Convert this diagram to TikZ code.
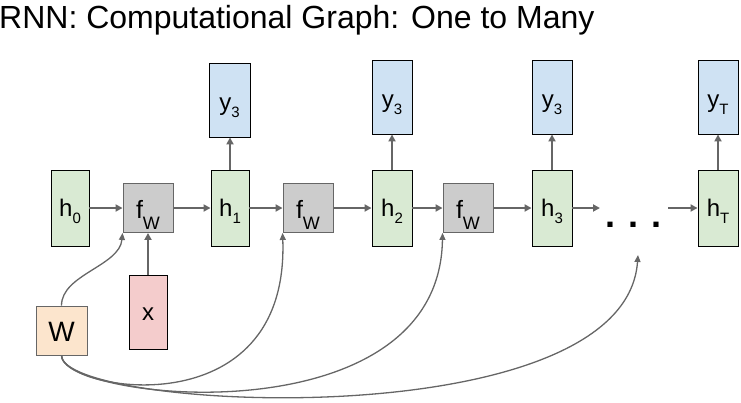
\documentclass[tikz,border=0pt]{standalone}
\usepackage{fontspec}
\setmainfont{Liberation Sans}
\usetikzlibrary{arrows.meta}
\definecolor{hgreen}{HTML}{D9EAD3}
\definecolor{fgray}{HTML}{CCCCCC}
\definecolor{yblue}{HTML}{CFE2F3}
\definecolor{xpink}{HTML}{F4CCCC}
\definecolor{worange}{HTML}{FCE5CD}
\definecolor{edgegray}{HTML}{666666}
\newcommand{\hlab}[2]{{\fontsize{24}{24}\selectfont #1\raisebox{-7pt}{\fontsize{15}{15}\selectfont #2}}}
\newcommand{\flab}{{\fontsize{25}{25}\selectfont f\raisebox{-11pt}{\fontsize{18}{18}\selectfont W}}}
\begin{document}
\begin{tikzpicture}[x=1pt,y=-1pt,
  box/.style={draw=black, line width=0.9pt, inner sep=0pt, minimum width=38pt, minimum height=76pt},
  hbox/.style={box, fill=hgreen, text height=17pt, text depth=0pt},
  ybox/.style={box, fill=yblue, minimum width=40pt, minimum height=74pt, text height=20pt, text depth=0pt},
  fbox/.style={draw=edgegray, line width=0.9pt, fill=fgray, inner sep=0pt, minimum width=50pt, minimum height=49pt, text height=21pt, text depth=0pt},
  xbox/.style={box, fill=xpink, minimum height=74pt, text height=16pt, text depth=0pt, font=\fontsize{24}{24}\selectfont},
  wbox/.style={draw=edgegray, line width=0.9pt, fill=worange, inner sep=0pt, minimum width=51pt, minimum height=49pt, text height=22pt, text depth=0pt, font=\fontsize{28}{28}\selectfont},
  arr/.style={draw=edgegray, line width=2pt, -{Triangle[length=7pt,width=7pt]}},
  carr/.style={draw=edgegray, line width=1.3pt, -{Triangle[length=7pt,width=6pt]}}
]
\useasboundingbox (0,0) rectangle (741,402);
\node[anchor=base west, inner sep=0pt, font=\fontsize{32}{32}\selectfont] (title) at (-1,28) {RNN: Computational Graph: One to Many};

\node[hbox] (h0) at (70,208) {\hlab{h}{0}};
\node[fbox] (f1) at (148,208) {\flab};
\node[hbox] (h1) at (230,208) {\hlab{h}{1}};
\node[fbox] (f2) at (308,208) {\flab};
\node[hbox, minimum width=40pt] (h2) at (392,208) {\hlab{h}{2}};
\node[fbox] (f3) at (468,208) {\flab};
\node[hbox, minimum width=40pt] (h3) at (552,208) {\hlab{h}{3}};
\node[hbox, minimum width=40pt] (hT) at (718,208) {\hlab{h}{T}};

\node[ybox, minimum width=41pt] (ya) at (229.5,100) {\hlab{y}{3}};
\node[ybox] (yb) at (392,97) {\hlab{y}{3}};
\node[ybox] (yc) at (552,97) {\hlab{y}{3}};
\node[ybox] (yd) at (718,97) {\hlab{y}{T}};

\node[xbox] (x) at (148,312) {x};
\node[wbox] (W) at (61.5,330.5) {W};

\node[anchor=base, inner sep=0pt, font=\bfseries\fontsize{36}{36}\selectfont] (dots) at (633.5,227.5) {. . .};
\coordinate (d1) at (600,208);
\coordinate (d2) at (668,208);
\coordinate (d3) at (638,255);

\draw[arr] (h0.east) -- (f1.west);
\draw[arr] (f1.east) -- (h1.west);
\draw[arr] (h1.east) -- (f2.west);
\draw[arr] (f2.east) -- (h2.west);
\draw[arr] (h2.east) -- (f3.west);
\draw[arr] (f3.east) -- (h3.west);
\draw[arr] (h3.east) -- (d1);
\draw[arr] (d2) -- (hT.west);

\draw[arr] (h1.north) -- (h1.north |- ya.south);
\draw[arr] (h2.north) -- (yb.south);
\draw[arr] (h3.north) -- (yc.south);
\draw[arr] (hT.north) -- (yd.south);
\draw[arr] (x.north) -- (f1.south);

\draw[carr] (W.north) .. controls +(0,-31) and +(-3,33) .. (f1.south west);
\draw[carr] (W.south) .. controls +(0,35) and +(7,198) .. (f2.south west);
\draw[carr] (W.south) .. controls +(0,45) and +(-3,208) .. (f3.south west);
\draw[carr] (W.south) .. controls +(0,55) and +(-13,185) .. (d3);
\end{tikzpicture}
\end{document}
